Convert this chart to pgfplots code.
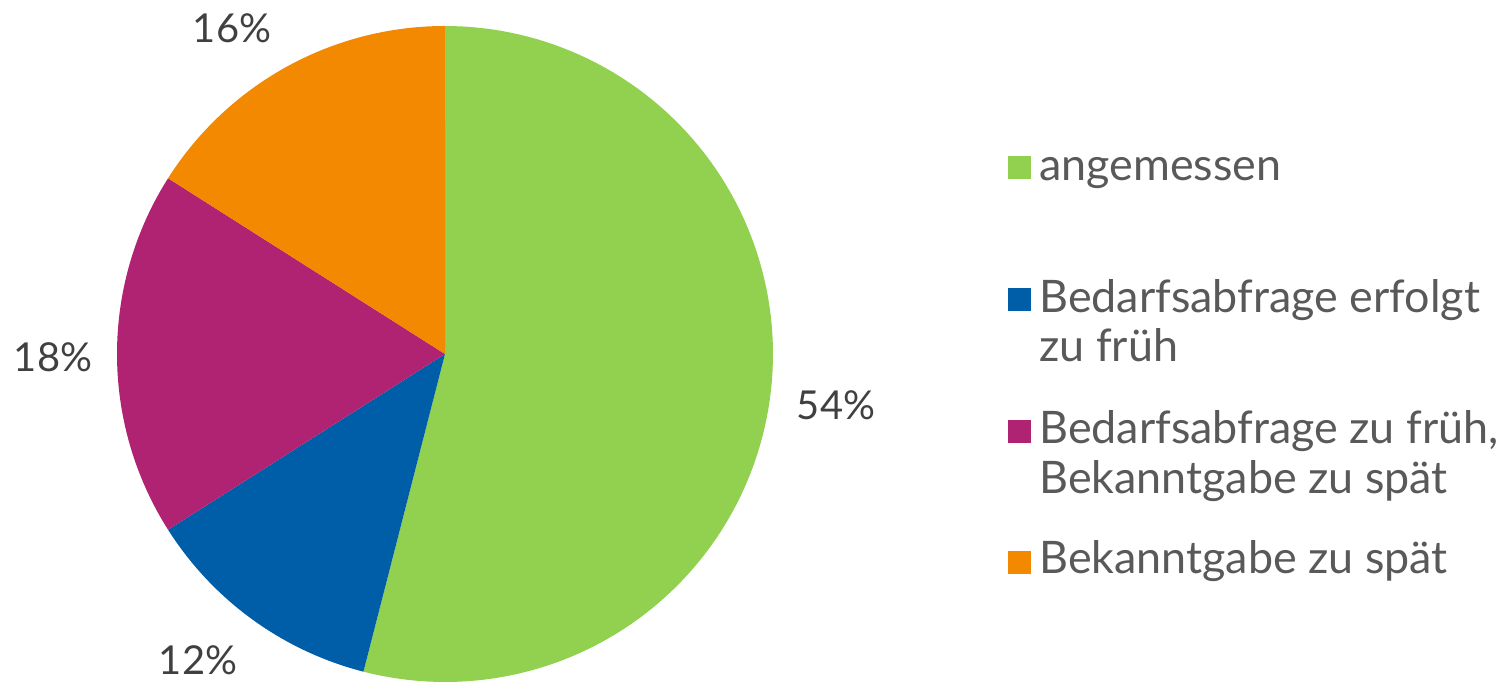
\documentclass[border=0pt]{standalone}
\usepackage{pgfplots}
\pgfplotsset{compat=1.18}
\usepackage{fontspec}
\setmainfont{Lato}
\definecolor{cgreen}{HTML}{92D050}
\definecolor{cblue}{HTML}{005EA8}
\definecolor{cmag}{HTML}{B02373}
\definecolor{corange}{HTML}{F28900}
\definecolor{ctext}{HTML}{595959}
\definecolor{clab}{HTML}{404040}
% shares in percent
\def\pA{54}\def\pB{12}\def\pC{18}\def\pD{16}
\pgfmathsetmacro\aA{90}
\pgfmathsetmacro\aB{\aA-3.6*\pA}
\pgfmathsetmacro\aC{\aB-3.6*\pB}
\pgfmathsetmacro\aD{\aC-3.6*\pC}
\pgfmathsetmacro\aE{\aD-3.6*\pD}
\newcommand\slice[3]{%
  \addplot[fill=#3, draw=none, domain=#1:#2, samples=120]
    ({445+328*cos(x)},{328+328*sin(x)}) -- (axis cs:445,328) -- cycle;}
\newcommand\tl[1]{\begin{tabular}[t]{@{}l@{}}#1\end{tabular}}
\begin{document}
\begin{tikzpicture}
\begin{axis}[
  at={(0,0)}, anchor=south west,
  scale only axis, width=753bp, height=341bp,
  xmin=0, xmax=1506, ymin=0, ymax=682,
  hide axis, clip=false,
  legend style={at={(axis cs:1002,543)}, anchor=north west, draw=none, fill=none,
    font=\fontsize{22.5}{25}\selectfont\color{ctext},
    nodes={inner xsep=4bp, inner ysep=1bp}, row sep=45bp},
  legend cell align=left,
  legend image code/.code={\fill[#1] (0bp,-7.5bp) rectangle (11.5bp,4bp);},
]
\slice{\aA}{\aB}{cgreen}
\addlegendentry{\tl{angemessen\\ }}
\slice{\aB}{\aC}{cblue}
\addlegendentry{\tl{Bedarfsabfrage erfolgt\\zu früh}}
\slice{\aC}{\aD}{cmag}
\addlegendentry{\tl{Bedarfsabfrage zu früh,\\Bekanntgabe zu spät}}
\slice{\aD}{\aE}{corange}
\addlegendentry{Bekanntgabe zu spät}
\begin{scope}[every node/.style={font=\fontsize{20}{24}\selectfont, text=clab}]
\node at (axis cs:836,277) {54\%};
\node at (axis cs:232,654) {16\%};
\node at (axis cs:53,325) {18\%};
\node at (axis cs:198,22) {12\%};
\end{scope}
\end{axis}
\pgfresetboundingbox
\path (0,0) rectangle (753bp,341bp);
\end{tikzpicture}
\end{document}
